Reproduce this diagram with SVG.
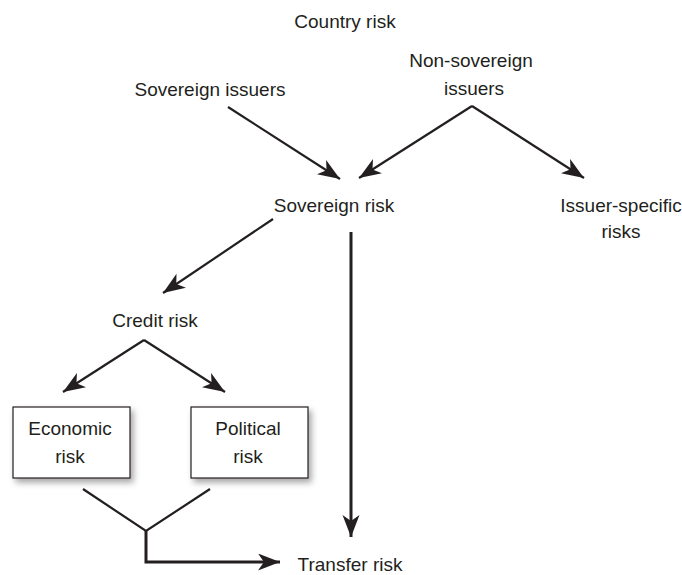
<svg xmlns="http://www.w3.org/2000/svg" width="682" height="575" viewBox="0 0 682 575">
<style>
text{font-family:"Liberation Sans",Arial,sans-serif;font-size:19px;fill:#231f20;text-anchor:middle}
.c{fill:none;stroke:#231f20;stroke-width:2.2}
.t{stroke-width:3}
.box{fill:#fff;stroke:#231f20;stroke-width:1.2}
</style>
<defs>
<marker id="ah" markerUnits="userSpaceOnUse" markerWidth="24" markerHeight="18" refX="22" refY="8.5" orient="auto">
<path d="M0,0 L22,8.5 L0,17 L6,8.5 Z" fill="#231f20"/>
</marker>
<filter id="sh" x="-20%" y="-20%" width="150%" height="150%">
<feDropShadow dx="3" dy="4" stdDeviation="3" flood-color="#000" flood-opacity="0.35"/>
</filter>
</defs>
<g id="country"><text x="345" y="28">Country risk</text></g>
<g id="sovereign-issuers"><text x="210" y="96">Sovereign issuers</text></g>
<g id="non-sovereign"><text x="471" y="67">Non-sovereign</text><text x="474" y="95">issuers</text></g>
<g id="sovereign-risk"><text x="334" y="212">Sovereign risk</text></g>
<g id="issuer-specific"><text x="621" y="212">Issuer-specific</text><text x="621" y="238">risks</text></g>
<g id="credit"><text x="155" y="327">Credit risk</text></g>
<g id="economic"><rect class="box" x="13" y="407" width="117" height="71" filter="url(#sh)"/><text x="70" y="435">Economic</text><text x="70" y="463">risk</text></g>
<g id="political"><rect class="box" x="191" y="407" width="117" height="71" filter="url(#sh)"/><text x="248" y="435">Political</text><text x="248" y="463">risk</text></g>
<g id="transfer"><text x="350" y="571">Transfer risk</text></g>
<g id="connectors">
<line class="c" x1="228" y1="107" x2="340" y2="179" marker-end="url(#ah)"/>
<line class="c" x1="472" y1="106" x2="359" y2="178" marker-end="url(#ah)"/>
<line class="c" x1="472" y1="106" x2="584" y2="178" marker-end="url(#ah)"/>
<line class="c" x1="273" y1="219" x2="163" y2="293" marker-end="url(#ah)"/>
<line class="c t" x1="351" y1="232" x2="351" y2="537" marker-end="url(#ah)"/>
<line class="c" x1="144" y1="340" x2="63" y2="392" marker-end="url(#ah)"/>
<line class="c" x1="144" y1="340" x2="225" y2="392" marker-end="url(#ah)"/>
<polyline class="c" points="83,489 146,531 210,489"/>
<polyline class="c t" points="146,531 146,562 280,562" marker-end="url(#ah)"/>
</g>
</svg>
